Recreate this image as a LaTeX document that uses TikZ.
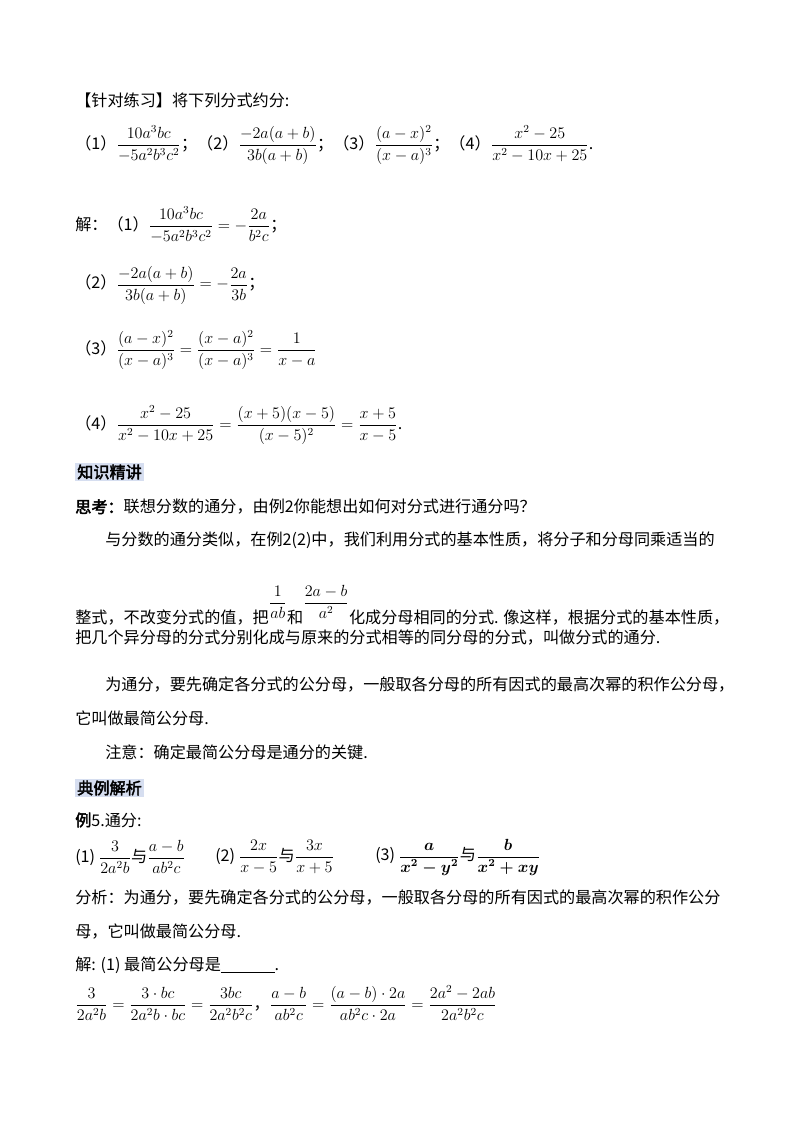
\documentclass[tikz,border=0pt]{standalone}
\usepackage{fontspec}
\usepackage{amsmath}
\newfontfamily\cjk{Noto Sans CJK SC}
\newfontfamily\cjkb[FakeBold=2.5]{Noto Sans CJK SC}
\definecolor{hl}{RGB}{214,222,240}
\begin{document}
\begin{tikzpicture}[x=0.744pt,y=-0.744pt,
  t/.style={anchor=west,inner sep=0pt,font=\cjk\fontsize{12}{14}\selectfont},
  hbox/.style={anchor=west,inner sep=1.5pt,fill=hl,font=\cjkb\fontsize{12}{14}\selectfont}]
\useasboundingbox (0,0) rectangle (800,1132);
\node[t] (l1) at (75,100) {【针对练习】将下列分式约分:};
\node[t] (l2) at (75,145) {（1）$\dfrac{10a^3bc}{-5a^2b^3c^2}$；（2）$\dfrac{-2a(a+b)}{3b(a+b)}$；（3）$\dfrac{(a-x)^2}{(x-a)^3}$；（4）$\dfrac{x^2-25}{x^2-10x+25}$.};
\node[t] (s1) at (75,225) {解：（1）$\dfrac{10a^3bc}{-5a^2b^3c^2}=-\dfrac{2a}{b^2c}$；};
\node[t] (s2) at (75,285) {（2）$\dfrac{-2a(a+b)}{3b(a+b)}=-\dfrac{2a}{3b}$；};
\node[t] (s3) at (75,350) {（3）$\dfrac{(a-x)^2}{(x-a)^3}=\dfrac{(x-a)^2}{(x-a)^3}=\dfrac{1}{x-a}$};
\node[t] (s4) at (75,425) {（4）$\dfrac{x^2-25}{x^2-10x+25}=\dfrac{(x+5)(x-5)}{(x-5)^2}=\dfrac{x+5}{x-5}$.};
\node[hbox] (k1) at (75,472) {知识精讲};
\node[t] (p1) at (75,507) {{\cjkb 思考：}联想分数的通分，由例2你能想出如何对分式进行通分吗？};
\node[t] (p2) at (105,540) {与分数的通分类似，在例2(2)中，我们利用分式的基本性质，将分子和分母同乘适当的};
\node[t] (p3) at (75,605) {整式，不改变分式的值，把$\raisebox{12pt}{$\dfrac{1}{ab}$}$和$\raisebox{12pt}{$\dfrac{2a-b}{a^2}$}$化成分母相同的分式. 像这样，根据分式的基本性质，};
\node[t] (p4) at (75,638) {把几个异分母的分式分别化成与原来的分式相等的同分母的分式，叫做分式的通分.};
\node[t] (p5) at (105,685) {为通分，要先确定各分式的公分母，一般取各分母的所有因式的最高次幂的积作公分母，};
\node[t] (p6) at (75,718) {它叫做最简公分母.};
\node[t] (p7) at (105,752) {注意：确定最简公分母是通分的关键.};
\node[hbox] (k2) at (75,788) {典例解析};
\node[t] (e5) at (75,820) {{\cjkb 例}5.通分:};
\node[t] (e1) at (75,857) {(1) $\dfrac{3}{2a^2b}$与$\dfrac{a-b}{ab^2c}$};
\node[t] (e2) at (215,857) {(2) $\dfrac{2x}{x-5}$与$\dfrac{3x}{x+5}$};
\node[t] (e3) at (375,857) {(3) $\dfrac{\boldsymbol{a}}{\boldsymbol{x^2-y^2}}$与$\dfrac{\boldsymbol{b}}{\boldsymbol{x^2+xy}}$};
\node[t] (a1) at (75,898) {分析：为通分，要先确定各分式的公分母，一般取各分母的所有因式的最高次幂的积作公分};
\node[t] (a2) at (75,932) {母，它叫做最简公分母.};
\node[t] (a3) at (75,965) {解: (1) 最简公分母是\underline{\hspace{40pt}}.};
\node[t] (a4) at (75,1003) {$\dfrac{3}{2a^2b}=\dfrac{3\cdot bc}{2a^2b\cdot bc}=\dfrac{3bc}{2a^2b^2c}$，$\dfrac{a-b}{ab^2c}=\dfrac{(a-b)\cdot 2a}{ab^2c\cdot 2a}=\dfrac{2a^2-2ab}{2a^2b^2c}$};
\end{tikzpicture}
\end{document}
